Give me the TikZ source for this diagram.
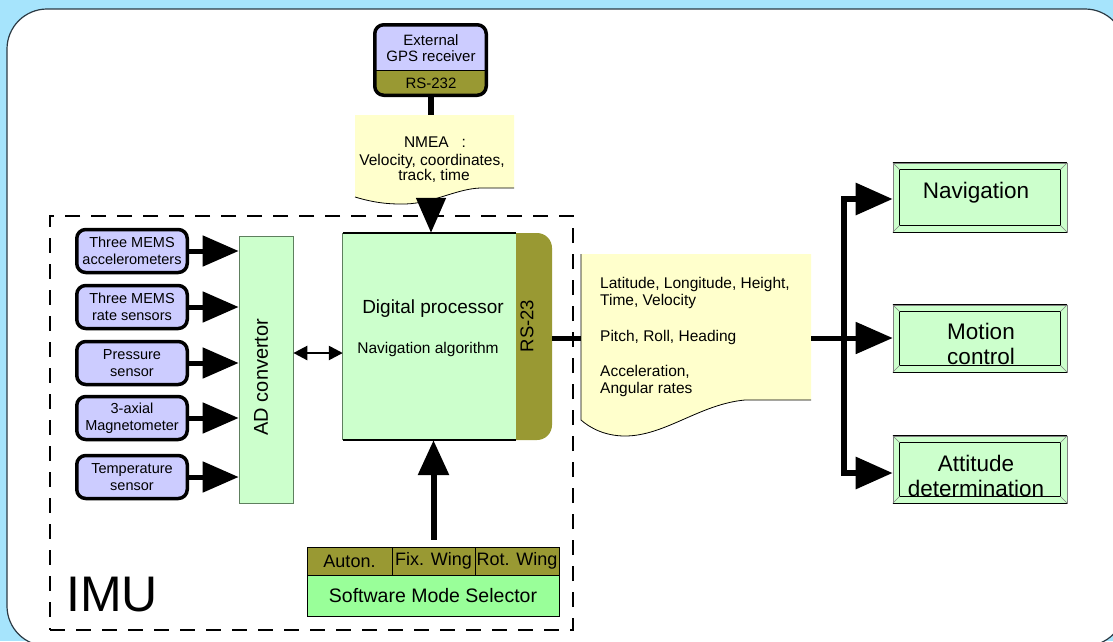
\documentclass[tikz,border=0pt]{standalone}
\usepackage{fontspec}
\setmainfont{Liberation Sans}
\usetikzlibrary{arrows.meta}
\definecolor{bgblue}{HTML}{A6E4FC}
\definecolor{senspurple}{HTML}{CCCCFF}
\definecolor{olivebar}{HTML}{999933}
\definecolor{lightgreen}{HTML}{CCFFCC}
\definecolor{selgreen}{HTML}{99FF99}
\definecolor{noteyellow}{HTML}{FFFFCC}
\definecolor{framegray}{HTML}{2B3A44}
\definecolor{edgegreen}{HTML}{5E7F5E}
\newcommand\setfs[2]{\fontsize{#1}{#2}\selectfont}
\begin{document}
\begin{tikzpicture}[x=1pt,y=-1pt,
  sensor/.style={draw=black, line width=3.5pt, rounded corners=9pt, fill=senspurple,
    minimum width=110.5pt, minimum height=43pt, inner sep=0pt, align=center,
    font=\setfs{14.5}{17}},
  bigarrow/.style={line width=5pt, -{Triangle[length=36pt,width=30pt]}},
  thickline/.style={line width=5pt},
  imuframe/.style={draw=black, line width=2.5pt, dash pattern=on 15pt off 11pt, inner sep=0pt},
  ghost/.style={inner sep=0pt, draw=none},
  outbox/.style={fill=lightgreen, draw=gray, line width=0.6pt, minimum width=174pt, inner sep=0pt},
  outtext/.style={anchor=base, inner sep=0pt, font=\setfs{22.5}{24}},
  notetext/.style={inner sep=0pt, font=\setfs{15.5}{17}},
  selcell/.style={draw=black, line width=0.9pt, inner sep=0pt, font=\setfs{18}{20}},
]
\useasboundingbox (0,0) rectangle (1113,641);
\clip (0,0) rectangle (1113,641);
\fill[bgblue] (0,0) rectangle (1113,641);
\draw[framegray, line width=1.2pt, fill=white, rounded corners=40pt] (7,9) rectangle (1125,646);

% IMU frame
\node[imuframe, minimum width=523pt, minimum height=414pt] (imubox) at (311.5,423) {};
\node[anchor=base west, inner sep=0pt, font=\setfs{50}{55}] (imulabel) at (66,611) {IMU};

% sensors
\node[sensor] (s1) at (132,251) {Three MEMS\\accelerometers};
\node[sensor] (s2) at (132,307) {Three MEMS\\rate sensors};
\node[sensor] (s3) at (132,363) {Pressure\\sensor};
\node[sensor] (s4) at (132,418) {3-axial\\Magnetometer};
\node[sensor] (s5) at (132,477) {Temperature\\sensor};

% AD convertor
\node[fill=lightgreen, draw=edgegreen, line width=0.7pt, inner sep=0pt,
      minimum width=54pt, minimum height=267pt] (ad) at (266,369.5) {};
\node[rotate=90, inner sep=0pt, font=\setfs{20}{22}] (adlabel) at (261,377) {AD convertor};

\foreach \s in {s1,s2,s3,s4,s5}
  \draw[bigarrow] (\s.east) -- (\s.east -| ad.west);

% processor
\fill[olivebar, rounded corners=15pt] (500,233) rectangle (552,440);
\node[fill=lightgreen, inner sep=0pt, minimum width=173pt, minimum height=207pt] (proc) at (429.5,336.5) {};
\draw[black, line width=1.5pt] (proc.north west) -- (proc.north east);
\draw[black, line width=1.5pt] (proc.south west) -- (proc.south east);
\draw[edgegreen, line width=0.8pt] (proc.north west) -- (proc.south west);
\node[ghost, minimum width=36pt, minimum height=207pt] (rs) at (534,336.5) {};
\node[rotate=90, inner sep=0pt, font=\setfs{18.5}{20}] (rslabel) at (527,326) {RS-23};
\node[anchor=base, inner sep=0pt, font=\setfs{19}{21}] (proctitle) at (433,313) {Digital processor};
\node[anchor=base, inner sep=0pt, font=\setfs{15.5}{17}] (procalg) at (428,353) {Navigation algorithm};

% AD <-> processor
\coordinate (dbl) at (0,353);
\draw[line width=2.5pt, {Triangle[length=14pt,width=14pt]}-{Triangle[length=14pt,width=14pt]}]
  (ad.east |- dbl) -- (proc.west |- dbl);

% GPS receiver
\begin{scope}
  \clip[rounded corners=8pt] (374.75,24.75) rectangle (486.25,95.25);
  \fill[olivebar] (373,23) rectangle (488,97);
  \fill[senspurple] (373,23) rectangle (488,70);
  \draw[black, line width=1pt] (373,70) -- (488,70);
\end{scope}
\node[draw=black, line width=3.5pt, rounded corners=9pt, inner sep=0pt,
      minimum width=111.5pt, minimum height=70.5pt] (gps) at (430.5,60) {};
\node[anchor=base, inner sep=0pt, font=\setfs{15}{17}] (gps1) at (431,45.5) {External};
\node[anchor=base, inner sep=0pt, font=\setfs{15}{17}] (gps2) at (431,61.5) {GPS receiver};
\node[anchor=base, inner sep=0pt, font=\setfs{15}{17}] (gps3) at (431,88) {RS-232};

% NMEA note
\fill[noteyellow] (355,115) -- (514,115) -- (514,188) -- (480,188)
  .. controls (455,189) and (430,205) .. (400,204)
  .. controls (380,204) and (365,200) .. (355,197) -- cycle;
\draw[black, line width=0.8pt] (514,188) -- (480,188)
  .. controls (455,189) and (430,205) .. (400,204)
  .. controls (380,204) and (365,200) .. (355,197);
\node[ghost, minimum width=159pt, minimum height=73pt] (nmea) at (434.5,151.5) {};
\node[notetext, anchor=base] (nm1) at (435,147) {NMEA\ \ \ :};
\node[notetext, anchor=base] (nm2) at (432,165) {Velocity, coordinates,};
\node[notetext, anchor=base] (nm3) at (434,180) {track, time};
\coordinate (nmeabot) at (431,200);

\draw[line width=6pt] (gps.south) -- (gps.south |- nmea.north);
\draw[line width=5pt, -{Triangle[length=35pt,width=29pt]}] (nmeabot) -- (nmeabot |- proc.north);

% output note
\fill[noteyellow] (581,254) -- (811,254) -- (811,400) -- (745,400)
  .. controls (700,404) and (665,436) .. (625,436)
  .. controls (605,436) and (590,428) .. (581,420) -- cycle;
\draw[black, line width=0.8pt] (581,254) -- (581,420)
  .. controls (590,428) and (605,436) .. (625,436)
  .. controls (665,436) and (700,404) .. (745,400) -- (811,400);
\node[ghost, minimum width=230pt, minimum height=146pt] (outnote) at (696,327) {};
\node[notetext, anchor=base west] (o1) at (600,288) {Latitude, Longitude, Height,};
\node[notetext, anchor=base west] (o2) at (600,305) {Time, Velocity};
\node[notetext, anchor=base west] (o3) at (600,341) {Pitch, Roll, Heading};
\node[notetext, anchor=base west] (o4) at (600,376) {Acceleration,};
\node[notetext, anchor=base west] (o5) at (600,393) {Angular rates};

% output boxes
\node[outbox, minimum height=69pt] (nav) at (980,197.5) {};
\node[outbox, minimum height=67pt] (motion) at (980,338.5) {};
\node[outbox, minimum height=67pt] (att) at (980,469.5) {};
\foreach \n in {nav,motion,att} {
  \draw[black, line width=0.9pt] (\n.north west) -- (\n.north east);
  \draw[black, line width=0.9pt] (\n.south west) -- (\n.south east);
  \draw[black, line width=0.8pt] ([shift={(7pt,-7pt)}]\n.north west) rectangle ([shift={(-7pt,7pt)}]\n.south east);
  \draw[gray, line width=0.5pt] (\n.north west) -- ([shift={(7pt,-7pt)}]\n.north west);
  \draw[gray, line width=0.5pt] (\n.north east) -- ([shift={(-7pt,-7pt)}]\n.north east);
  \draw[gray, line width=0.5pt] (\n.south west) -- ([shift={(7pt,7pt)}]\n.south west);
  \draw[gray, line width=0.5pt] (\n.south east) -- ([shift={(-7pt,7pt)}]\n.south east);
}
\node[outtext] (navt) at (976,198) {Navigation};
\node[outtext] (mot1) at (981,339.5) {Motion};
\node[outtext] (mot2) at (981,364.5) {control};
\node[outtext] (att1) at (976,471.5) {Attitude};
\node[outtext] (att2) at (976,496.5) {determination};

% output bus
\coordinate (busmid) at (844,338);
\coordinate (bustop) at (844,199);
\coordinate (busbot) at (844,473);
\draw[thickline] (rs.east |- busmid) -- (outnote.west |- busmid);
\draw[thickline] (outnote.east |- busmid) -- (busmid);
\draw[bigarrow, -{Triangle[length=37pt,width=31pt]}] (busmid) -- (motion.west |- busmid);
\draw[bigarrow, line width=6pt, -{Triangle[length=37pt,width=31pt]}] (busmid) |- (nav.west |- bustop);
\draw[bigarrow, line width=6pt, -{Triangle[length=37pt,width=31pt]}] (busmid) |- (att.west |- busbot);

% software mode selector
\node[selcell, fill=olivebar, minimum width=85pt, minimum height=28pt] (auton) at (349.5,561) {Auton.};
\node[selcell, fill=olivebar, minimum width=83pt, minimum height=28pt] (fixw) at (433.5,561) {Fix. Wing};
\node[selcell, fill=olivebar, minimum width=84pt, minimum height=28pt] (rotw) at (517,561) {Rot. Wing};
\node[selcell, fill=selgreen, minimum width=252pt, minimum height=41pt, font=\setfs{19.5}{21}] (sel) at (433,595.5) {Software Mode Selector};
\draw[line width=6pt, -{Triangle[length=35pt,width=30pt]}] ([yshift=7pt]fixw.north) -- (fixw.north |- proc.south);
\end{tikzpicture}
\end{document}
